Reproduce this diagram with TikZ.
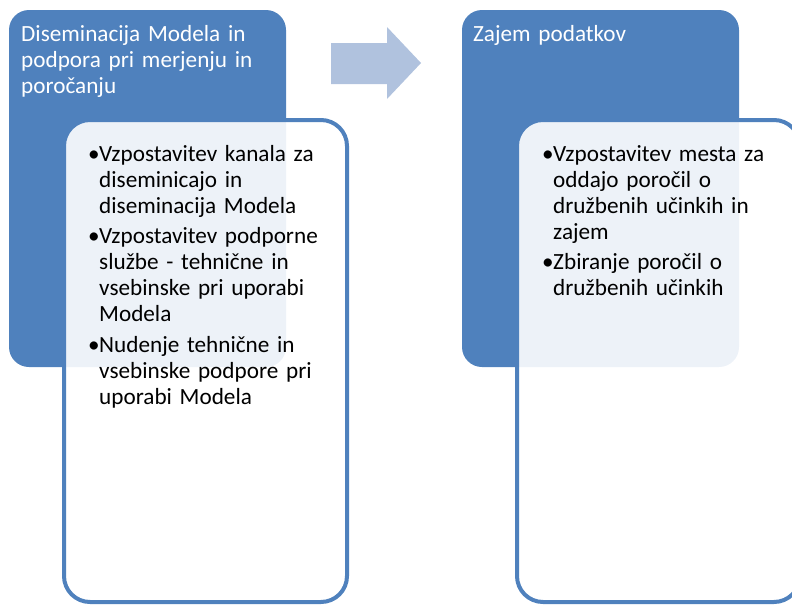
\documentclass[tikz,border=0pt]{standalone}
\usepackage{fontspec}
\setmainfont{Carlito}
\usetikzlibrary{positioning}

% one bullet point with a hanging indent
\newcommand{\bulletitem}[1]{\parskip=4.5pt\noindent\hangindent=11pt\hangafter=1\makebox[11pt][l]{\textbullet}#1\par}

\begin{document}
\begin{tikzpicture}[x=1pt, y=-1pt,
    headbox/.style={fill=accent, rounded corners=20pt, minimum width=277pt, minimum height=357pt, inner sep=0pt, outer sep=0pt},
    bodybox/.style={draw=accent, line width=4pt, fill=white, fill opacity=0.9, rounded corners=26pt, minimum width=283pt, minimum height=482pt, inner sep=0pt, outer sep=0pt},
    titletext/.style={text=white, text width=270pt, inner sep=0pt, font=\fontsize{23.2}{26}\selectfont},
    listtext/.style={text=black, text width=270pt, inner sep=0pt, font=\fontsize{23.2}{26}\selectfont}]
    % Define colors
    \definecolor{accent}{HTML}{4F81BD} % the dark blue of the stage boxes
    \definecolor{flowblue}{HTML}{B0C2DE} % the pale arrow between the stages

    % Fix the size of the page
    \useasboundingbox (0,0) rectangle (792,605);

    % Define a macro to draw one stage: a dark box and the list box over it
    \def\drawStage#1#2{ % #1 = left edge, #2 = name
      \node[headbox, anchor=north west] (#2head) at (#1, 10) {};
      \node[bodybox, anchor=north west] (#2body) at (#1+55, 120) {};
    }

    % The two stages
    \drawStage{9}{dis}
    \drawStage{462}{zaj}

    % Arrow from the first stage to the second
    \fill[flowblue] (331,43) -- (387,43) -- (387,27) -- (421,63) -- (387,99) -- (387,84) -- (331,84) -- cycle;

    % Titles
    \node[titletext, anchor=base west] (distitle) at (21,41)
      {Diseminacija Modela in\newline podpora pri merjenju in\newline poročanju};
    \node[titletext, anchor=base west] (zajtitle) at (473,41) {Zajem podatkov};

    % Lists
    \node[listtext, anchor=base west] (dislist) at (88,161) {%
      \bulletitem{Vzpostavitev kanala za\newline diseminicajo in\newline diseminacija Modela}
      \bulletitem{Vzpostavitev podporne\newline službe - tehnične in\newline vsebinske pri uporabi\newline Modela}
      \bulletitem{Nudenje tehnične in\newline vsebinske podpore pri\newline uporabi Modela}};
    \node[listtext, anchor=base west] (zajlist) at (542,161) {%
      \bulletitem{Vzpostavitev mesta za\newline oddajo poročil o\newline družbenih učinkih in\newline zajem}
      \bulletitem{Zbiranje poročil o\newline družbenih učinkih}};
  \end{tikzpicture}
\end{document}
